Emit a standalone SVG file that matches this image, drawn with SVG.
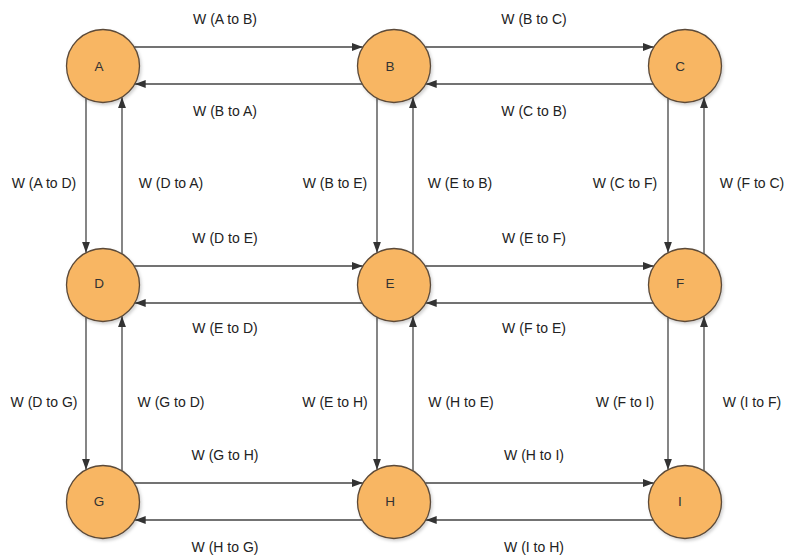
<svg xmlns="http://www.w3.org/2000/svg" width="786" height="557" viewBox="0 0 786 557">
  <style>
    .node circle { fill: #F8B663; stroke: #5b4a39; stroke-width: 1.3; filter: url(#shade); }
    .node text { font-family: "Liberation Sans", Arial, sans-serif; font-size: 13.5px; fill: #333; text-anchor: middle; }
    .edges line { stroke: #444; stroke-width: 1.3; marker-end: url(#head); }
    .labels text { font-family: "Liberation Sans", Arial, sans-serif; font-size: 14px; fill: #222; text-anchor: middle; }
  </style>
  <defs>
    <marker id="head" markerUnits="userSpaceOnUse" markerWidth="11" markerHeight="8" refX="11" refY="4" orient="auto">
      <path d="M0,0 L11,4 L0,8 z" fill="#333"/>
    </marker>
    <filter id="shade" x="-20%" y="-20%" width="150%" height="150%">
      <feDropShadow dx="1.5" dy="2" stdDeviation="1.5" flood-color="#000" flood-opacity="0.18"/>
    </filter>
  </defs>
  <rect width="786" height="557" fill="#fff"/>

  <!-- connectors -->
  <g id="connectors" class="edges">
    <!-- row 1 -->
    <line x1="134.2" y1="47" x2="362.8" y2="47"/>
    <line x1="425.2" y1="47" x2="653.8" y2="47"/>
    <line x1="362.3" y1="84" x2="134.7" y2="84"/>
    <line x1="653.3" y1="84" x2="425.7" y2="84"/>
    <!-- row 2 -->
    <line x1="134.2" y1="266" x2="362.8" y2="266"/>
    <line x1="425.2" y1="266" x2="653.8" y2="266"/>
    <line x1="362.3" y1="303" x2="134.7" y2="303"/>
    <line x1="653.3" y1="303" x2="425.7" y2="303"/>
    <!-- row 3 -->
    <line x1="134.2" y1="483" x2="362.8" y2="483"/>
    <line x1="425.2" y1="483" x2="653.8" y2="483"/>
    <line x1="362.3" y1="520" x2="134.7" y2="520"/>
    <line x1="653.3" y1="520" x2="425.7" y2="520"/>
    <!-- columns, top to middle -->
    <line x1="86" y1="98.3" x2="86" y2="252.7"/>
    <line x1="122" y1="253.8" x2="122" y2="97.2"/>
    <line x1="377" y1="98.3" x2="377" y2="252.7"/>
    <line x1="413" y1="253.8" x2="413" y2="97.2"/>
    <line x1="668" y1="98.3" x2="668" y2="252.7"/>
    <line x1="704" y1="253.8" x2="704" y2="97.2"/>
    <!-- columns, middle to bottom -->
    <line x1="86" y1="317.3" x2="86" y2="469.7"/>
    <line x1="122" y1="470.8" x2="122" y2="316.2"/>
    <line x1="377" y1="317.3" x2="377" y2="469.7"/>
    <line x1="413" y1="470.8" x2="413" y2="316.2"/>
    <line x1="668" y1="317.3" x2="668" y2="469.7"/>
    <line x1="704" y1="470.8" x2="704" y2="316.2"/>
  </g>

  <!-- edge weights -->
  <g id="edge-labels" class="labels">
    <text x="225" y="24">W (A to B)</text>
    <text x="225" y="116">W (B to A)</text>
    <text x="534" y="24">W (B to C)</text>
    <text x="534" y="116">W (C to B)</text>
    <text x="225" y="243">W (D to E)</text>
    <text x="225" y="333">W (E to D)</text>
    <text x="534" y="243">W (E to F)</text>
    <text x="534" y="333">W (F to E)</text>
    <text x="225" y="460">W (G to H)</text>
    <text x="225" y="552">W (H to G)</text>
    <text x="534" y="460">W (H to I)</text>
    <text x="534" y="552">W (I to H)</text>
    <text x="44" y="188">W (A to D)</text>
    <text x="171" y="188">W (D to A)</text>
    <text x="335" y="188">W (B to E)</text>
    <text x="460" y="188">W (E to B)</text>
    <text x="625" y="188">W (C to F)</text>
    <text x="752" y="188">W (F to C)</text>
    <text x="44" y="407">W (D to G)</text>
    <text x="171" y="407">W (G to D)</text>
    <text x="335" y="407">W (E to H)</text>
    <text x="461" y="407">W (H to E)</text>
    <text x="625" y="407">W (F to I)</text>
    <text x="752" y="407">W (I to F)</text>
  </g>

  <!-- nodes -->
  <g id="node-A" class="node"><circle cx="103" cy="66" r="36.5"/><text x="99" y="70.5">A</text></g>
  <g id="node-B" class="node"><circle cx="394" cy="66" r="36.5"/><text x="390" y="70.5">B</text></g>
  <g id="node-C" class="node"><circle cx="685" cy="66" r="36.5"/><text x="680" y="70.5">C</text></g>
  <g id="node-D" class="node"><circle cx="103" cy="285" r="36.5"/><text x="99" y="287.5">D</text></g>
  <g id="node-E" class="node"><circle cx="394" cy="285" r="36.5"/><text x="390" y="287.5">E</text></g>
  <g id="node-F" class="node"><circle cx="685" cy="285" r="36.5"/><text x="680" y="287.5">F</text></g>
  <g id="node-G" class="node"><circle cx="103" cy="502" r="36.5"/><text x="99" y="506">G</text></g>
  <g id="node-H" class="node"><circle cx="394" cy="502" r="36.5"/><text x="390" y="506">H</text></g>
  <g id="node-I" class="node"><circle cx="685" cy="502" r="36.5"/><text x="680" y="506">I</text></g>
</svg>
